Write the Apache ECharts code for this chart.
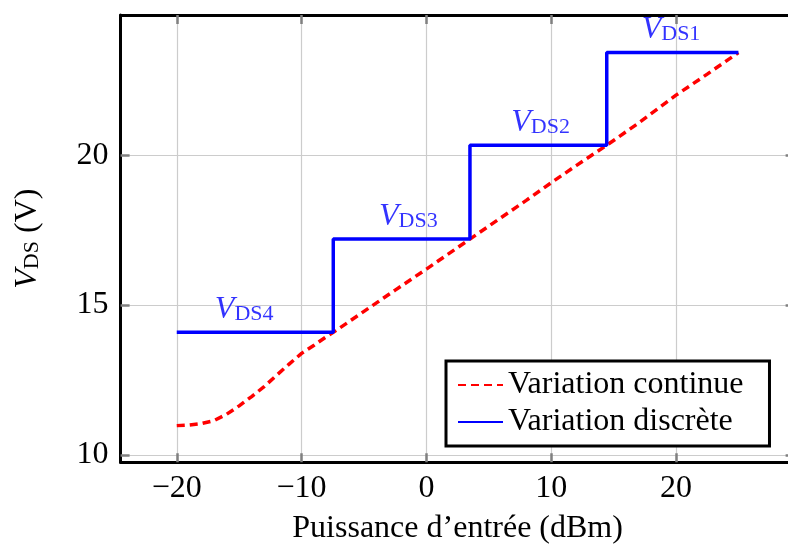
<!DOCTYPE html>
<html>
<head>
<meta charset="utf-8">
<script src="https://cdn.jsdelivr.net/npm/echarts@6/dist/echarts.min.js"></script>
<style>
  html, body { margin: 0; padding: 0; background: #fff; }
  #chart { width: 788px; height: 544px; }
</style>
</head>
<body>
<div id="chart"></div>
<script>
// Continuous drain-voltage variation vs. input power
const contPower = [-20, -19, -18, -17, -16, -15, -14, -13, -12, -11, -10, -9, -8, -7.46,
                   -5, -2.5, 0, 3.49, 6, 8, 10, 12, 14.45, 17, 20, 22.5, 25];
const contVds   = [10.98, 11.0, 11.05, 11.15, 11.36, 11.64, 11.95, 12.28, 12.66, 13.03, 13.39, 13.66, 13.95, 14.09,
                   14.79, 15.5, 16.2, 17.2, 17.92, 18.49, 19.08, 19.65, 20.33, 21.07, 22.0, 22.7, 23.42];

// Discrete supply levels: switching edges (dBm) and the level held on each step
const stepEdges  = [-20, -7.46, 3.49, 14.45, 25];
const stepLevels = [14.09, 17.2, 20.33, 23.42];
const stepNames  = ['DS4', 'DS3', 'DS2', 'DS1'];
const stepLabelX = [-14.6, -1.45, 9.15, 19.6];

// Axis ranges and tick values
const xRange = [-24.5, 29.5];
const yRange = [9.757, 24.673];
const xTicks = [-20, -10, 0, 10, 20];
const yTicks = [10, 15, 20];

const FONT = '"Liberation Serif", "DejaVu Serif", serif';
const FS = 32;
const BLUE = '#0000ff';
const RED = '#ff0000';

const contData = contPower.map((x, i) => [x, contVds[i]]);
const stepData = stepLevels.map((v, i) => [stepEdges[i], v]);
stepData.push([stepEdges[stepEdges.length - 1], stepLevels[stepLevels.length - 1]]);
const labelData = stepLevels.map((v, i) => [stepLabelX[i], v, stepNames[i]]);

const minus = v => String(v).replace('-', '\u2212');

const tickStyle = vals => ({ show: true, inside: true, length: 9, customValues: vals,
                             lineStyle: { color: '#808080', width: 2.5 } });
const frameLine = { show: true, onZero: false, lineStyle: { color: '#000', width: 3 } };
const gridLine = { show: true, lineStyle: { color: '#cccccc', width: 1.2 } };

const chart = echarts.init(document.getElementById('chart'), null, { renderer: 'canvas' });
chart.setOption({
  animation: false,
  backgroundColor: '#fff',
  textStyle: { fontFamily: FONT },
  grid: { left: 120.6, top: 15, width: 674, height: 447.3, outerBoundsMode: 'none' },
  xAxis: [{
    type: 'value', position: 'bottom', min: xRange[0], max: xRange[1], splitNumber: 5,
    axisLine: frameLine, axisTick: tickStyle(xTicks),
    axisLabel: { show: true, customValues: xTicks, margin: 10,
                 fontFamily: FONT, fontSize: FS, color: '#000', formatter: minus },
    splitLine: gridLine,
    name: 'Puissance d\u2019entr\u00e9e (dBm)', nameLocation: 'middle', nameGap: 50,
    nameTextStyle: { fontFamily: FONT, fontSize: FS, color: '#000' }
  }, {
    type: 'value', position: 'top', min: xRange[0], max: xRange[1], splitNumber: 5,
    axisLine: frameLine, axisTick: tickStyle(xTicks), axisLabel: { show: false }, splitLine: { show: false }
  }],
  yAxis: [{
    type: 'value', position: 'left', min: yRange[0], max: yRange[1], splitNumber: 3,
    axisLine: frameLine, axisTick: tickStyle(yTicks),
    axisLabel: { show: true, customValues: yTicks, margin: 12,
                 fontFamily: FONT, fontSize: FS, color: '#000', formatter: minus },
    splitLine: gridLine,
    name: '{v|V}{s|DS}{n| (V)}', nameLocation: 'middle', nameGap: 77, nameRotate: 90,
    nameTextStyle: {
      fontFamily: FONT, fontSize: FS, color: '#000',
      rich: {
        v: { fontFamily: FONT, fontSize: FS, fontStyle: 'italic', lineHeight: 32, verticalAlign: 'top' },
        s: { fontFamily: FONT, fontSize: 22, lineHeight: 16, verticalAlign: 'bottom' },
        n: { fontFamily: FONT, fontSize: FS, lineHeight: 32, verticalAlign: 'top' }
      }
    }
  }, {
    type: 'value', position: 'right', min: yRange[0], max: yRange[1], splitNumber: 3,
    axisLine: frameLine, axisTick: tickStyle(yTicks), axisLabel: { show: false }, splitLine: { show: false }
  }],
  legend: {
    data: ['Variation continue', 'Variation discr\u00e8te'],
    orient: 'vertical', left: 446, top: 361,
    padding: [8, 26, 8, 11], itemGap: 5, itemWidth: 45, itemHeight: 14,
    itemStyle: { color: 'rgba(0,0,0,0)', borderWidth: 0, opacity: 0 },
    backgroundColor: '#fff', borderColor: '#000', borderWidth: 3, borderRadius: 0,
    textStyle: { fontFamily: FONT, fontSize: FS, lineHeight: 32, color: '#000' }
  },
  series: [{
    name: 'Variation continue', type: 'line', data: contData,
    smooth: false, showSymbol: false, symbol: 'none',
    lineStyle: { color: RED, width: 3.5, type: [8, 5] }, itemStyle: { color: RED }, z: 3
  }, {
    name: 'Variation discr\u00e8te', type: 'line', data: stepData, step: 'end',
    showSymbol: false, symbol: 'none',
    lineStyle: { color: BLUE, width: 3.5 }, itemStyle: { color: BLUE }, z: 4
  }, {
    name: 'labels', type: 'scatter', data: labelData, symbolSize: 0, silent: true, z: 5,
    label: {
      show: true, position: 'top', distance: 7,
      formatter: p => '{v|V}{s|' + p.data[2] + '}',
      rich: {
        v: { fontFamily: FONT, fontSize: FS, fontStyle: 'italic', color: BLUE, lineHeight: 32, verticalAlign: 'top' },
        s: { fontFamily: FONT, fontSize: 22, color: BLUE, lineHeight: 16, verticalAlign: 'bottom' }
      }
    }
  }]
});
</script>
</body>
</html>
